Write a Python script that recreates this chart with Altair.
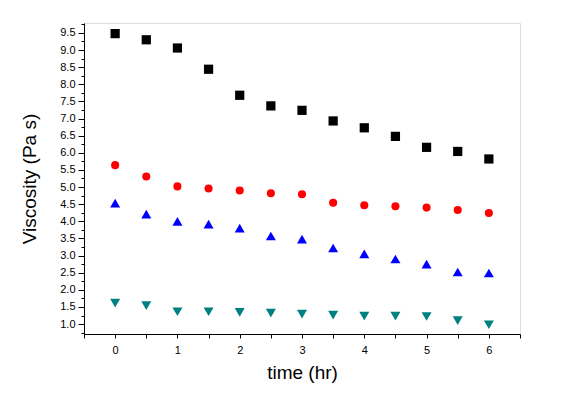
import altair as alt
import pandas as pd

time = [0, 0.5, 1, 1.5, 2, 2.5, 3, 3.5, 4, 4.5, 5, 5.5, 6]
s_square = [9.48, 9.30, 9.06, 8.44, 7.68, 7.37, 7.24, 6.93, 6.73, 6.48, 6.16, 6.04, 5.82]
s_circle = [5.64, 5.31, 5.02, 4.96, 4.90, 4.82, 4.79, 4.54, 4.47, 4.44, 4.40, 4.33, 4.24]
s_up = [4.53, 4.21, 4.00, 3.92, 3.80, 3.57, 3.48, 3.22, 3.05, 2.90, 2.75, 2.52, 2.49]
s_down = [1.61, 1.54, 1.36, 1.36, 1.34, 1.32, 1.29, 1.26, 1.23, 1.23, 1.22, 1.10, 0.98]

series = [
    ("A", s_square, "square", "#000000", 85),
    ("B", s_circle, "circle", "#FF0000", 65),
    ("C", s_up, "triangle-up", "#0000FF", 100),
    ("D", s_down, "triangle-down", "#008080", 100),
]

rows = []
for name, vals, shape, color, size in series:
    for t, v in zip(time, vals):
        rows.append({"time": t, "visc": v, "s": name})
df = pd.DataFrame(rows)

xticks = [x * 0.5 for x in range(-1, 14)]
yticks = [0.75 + 0.25 * i for i in range(37)]

base = alt.Chart(df)
layers = []
for name, vals, shape, color, size in series:
    layers.append(
        base.transform_filter(alt.datum.s == name)
        .mark_point(shape=shape, filled=True, color=color, size=size, opacity=1)
        .encode(
            x=alt.X(
                "time:Q",
                scale=alt.Scale(domain=[-0.5, 6.5], nice=False, zero=False),
                axis=alt.Axis(
                    title="time (hr)",
                    values=xticks,
                    labelExpr="datum.value % 1 == 0 ? format(datum.value, 'd') : ''",
                    labelOverlap=False,
                    labelFlush=False,
                    grid=False,
                    tickSize=4,
                    tickColor="black",
                    domainColor="black",
                    labelFont="Liberation Sans",
                    labelFontSize=11,
                    labelColor="black",
                    labelPadding=6,
                    titleFont="Liberation Sans",
                    titleFontSize=19,
                    titleFontWeight="normal",
                    titleColor="black",
                    titlePadding=8,
                ),
            ),
            y=alt.Y(
                "visc:Q",
                scale=alt.Scale(domain=[0.71, 9.79], nice=False, zero=False),
                axis=alt.Axis(
                    title="Viscosity (Pa s)",
                    values=yticks,
                    labelExpr="datum.value % 0.5 == 0 ? format(datum.value, '.1f') : ''",
                    labelOverlap=False,
                    labelFlush=False,
                    grid=False,
                    tickSize={"condition": {"test": "datum.value % 0.5 == 0", "value": 6}, "value": 3},
                    tickColor="black",
                    domainColor="black",
                    labelFont="Liberation Sans",
                    labelFontSize=11,
                    labelColor="black",
                    labelPadding=3,
                    titleFont="Liberation Sans",
                    titleFontSize=19,
                    titleFontWeight="normal",
                    titleColor="black",
                    titlePadding=20,
                ),
            ),
        )
    )

chart = (
    alt.layer(*layers)
    .properties(
        width=436,
        height=311,
        autosize=alt.AutoSizeParams(type="none"),
        padding={"left": 76, "top": 15, "right": 30, "bottom": 60},
    )
    .configure_view(stroke="black", strokeWidth=1)
    .configure(background="white")
)

chart.save("out.html", embed_options={"renderer": "svg", "actions": False})
